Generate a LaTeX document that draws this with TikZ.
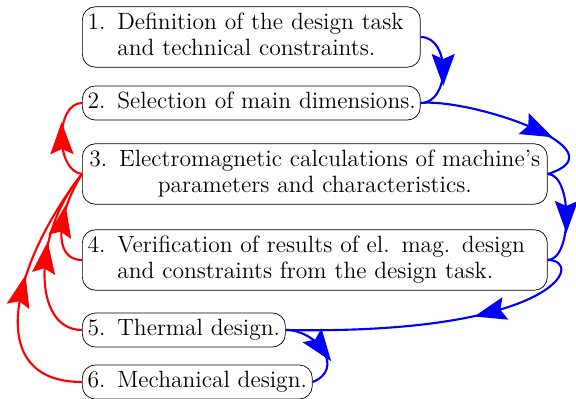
\documentclass[tikz,border=0pt]{standalone}
\usetikzlibrary{arrows.meta,decorations.markings}
\begin{document}
\begin{tikzpicture}[x=0.02cm,y=-0.02cm,
    box/.style={draw, rounded corners=2.6mm, anchor=west, font=\fontsize{13.4}{15}\selectfont, inner xsep=3pt, inner ysep=2.2pt},
    shortbox/.style={box, text width=6.55cm},
    longbox/.style={box, text width=9.09cm},
    midarrow/.style={postaction={decorate}, decoration={markings,
        mark=at position #1 with {\arrow[xshift=3.2mm]{Stealth[length=6.4mm,width=4.6mm,inset=1mm]}}}},
    fwd/.style={blue, very thick, midarrow=#1},
    fwd/.default=0.5,
    back/.style={red, very thick, midarrow=#1},
    back/.default=0.5]
    \useasboundingbox (0,0) rectangle (576,399);
    % the six design steps
    \node[shortbox] (n1) at (82,37) {\begin{tabular}{@{}l@{\hspace{0.5em}}l@{}}1. & Definition of the design task\\ & and technical constraints.\end{tabular}};
    \node[shortbox] (n2) at (82,103) {\begin{tabular}{@{}l@{\hspace{0.5em}}l@{}}2. & Selection of main dimensions.\end{tabular}};
    \node[longbox, align=center] (n3) at (82,174) {\begin{tabular}{@{}c@{}}3.\hspace{0.5em}Electromagnetic calculations of machine's\\parameters and characteristics.\end{tabular}};
    \node[longbox] (n4) at (82,260) {\begin{tabular}{@{}l@{\hspace{0.5em}}l@{}}4. & Verification of results of el. mag. design\\ & and constraints from the design task.\end{tabular}};
    \node[box] (n5) at (82,330) {\begin{tabular}{@{}l@{\hspace{0.5em}}l@{}}5. & Thermal design.\end{tabular}};
    \node[box] (n6) at (82,382) {\begin{tabular}{@{}l@{\hspace{0.5em}}l@{}}6. & Mechanical design.\end{tabular}};
    % forward path
    \draw[fwd] (n1.east) .. controls +(30,0) and +(30,0) .. (n2.east);
    \draw[fwd=0.63] (n2.east) .. controls +(50,-5) and +(78,-24) .. (n3.east);
    \draw[fwd] (n3.east) .. controls +(25,0) and +(25,0) .. (n4.east);
    \draw[fwd=0.34] (n4.east) .. controls +(38,0) and +(273,5) .. (n5.east);
    \draw[fwd] (n5.east) .. controls +(32,0) and +(33,-13) .. (n6.east);
    % feedback
    \draw[back] (n3.west) .. controls +(-27,-3) and +(-27,0) .. (n2.west);
    \draw[back] (n4.west) .. controls +(-30,0) and +(-25,40) .. (n3.west);
    \draw[back] (n5.west) .. controls +(-50,0) and +(-50,60) .. (n3.west);
    \draw[back] (n6.west) .. controls +(-100,0) and +(-70,90) .. (n3.west);
\end{tikzpicture}
\end{document}
